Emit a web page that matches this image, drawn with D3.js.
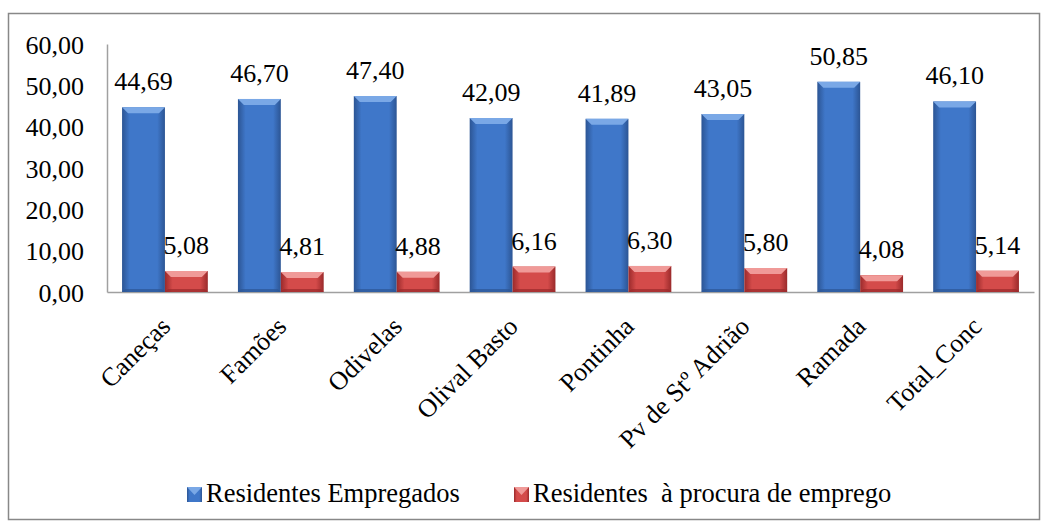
<!DOCTYPE html>
<html>
<head>
<meta charset="utf-8">
<script src="https://cdn.jsdelivr.net/npm/d3@7"></script>
<style>
  body { margin: 0; background: #fff; }
</style>
</head>
<body>
<script>
const categories = ['Caneças', 'Famões', 'Odivelas', 'Olival Basto', 'Pontinha', 'Pv de Stº Adrião', 'Ramada', 'Total_Conc'];
const empregados = [44.69, 46.70, 47.40, 42.09, 41.89, 43.05, 50.85, 46.10];
const procura = [5.08, 4.81, 4.88, 6.16, 6.30, 5.80, 4.08, 5.14];
const seriesNames = ['Residentes Empregados', 'Residentes  à procura de emprego'];
const yTicks = [0, 10, 20, 30, 40, 50, 60];

const svgWidth = 1049;
const svgHeight = 525;
const margin = { left: 107, right: 15, top: 44, bottom: 233 };
const width = 1034 - margin.left;
const height = 292 - margin.top;
const serif = '"Liberation Serif", "Times New Roman", serif';
const fontSize = '26px';

const fmt = (v) => v.toFixed(2).replace('.', ',');

const svg = d3.select('body')
.append('svg')
.attr('width', svgWidth)
.attr('height', svgHeight)
.attr('font-family', serif)

// outer chart border
svg.append('rect')
.attr('x', 8.5).attr('y', 13.5)
.attr('width', 1031).attr('height', 506)
.attr('fill', '#fff')
.attr('stroke', '#888')
.attr('stroke-width', 1.5)

const defs = svg.append('defs');
const colors = [
    { id: 'blue', dark: '#2c5594', mid: '#3f77c9', light: '#7aa8e6' },
    { id: 'red', dark: '#9a2a2b', mid: '#d44b4a', light: '#f09a98' }
];
colors.forEach((c) => {
    const g = defs.append('linearGradient').attr('id', 'grad-' + c.id)
    .attr('x1', 0).attr('x2', 1).attr('y1', 0).attr('y2', 0)
    g.append('stop').attr('offset', '0%').attr('stop-color', c.dark)
    g.append('stop').attr('offset', '18%').attr('stop-color', c.mid)
    g.append('stop').attr('offset', '82%').attr('stop-color', c.mid)
    g.append('stop').attr('offset', '100%').attr('stop-color', c.dark)
})

const chart = svg.append('g')
.attr('transform', `translate(${margin.left}, ${margin.top})`)

const x0 = d3.scaleBand()
.domain(categories)
.range([0, width])
.paddingInner(0.26)
.paddingOuter(0.13)

const x1 = d3.scaleBand()
.domain([0, 1])
.range([0, x0.bandwidth()])

const y = d3.scaleLinear()
.domain([0, 60])
.range([height, 0])

// y axis
const yAxis = chart.append('g')
.call(d3.axisLeft(y).tickValues(yTicks).tickFormat(fmt).tickSize(0).tickPadding(23))
yAxis.attr('font-family', serif)
yAxis.select('.domain').attr('stroke', '#a0a0a0').attr('stroke-width', 1.5)
yAxis.selectAll('text').style('font-size', fontSize).style('font-family', serif).attr('fill', '#000').attr('dy', '0.35em')

// x axis, labels slanted
const xAxis = chart.append('g')
.attr('transform', `translate(0, ${height})`)
.call(d3.axisBottom(x0).tickSize(0).tickPadding(0))
xAxis.attr('font-family', serif)
xAxis.select('.domain').attr('stroke', '#a0a0a0').attr('stroke-width', 1.5)
xAxis.selectAll('text')
.style('font-size', fontSize)
.style('font-family', serif)
.attr('fill', '#000')
.attr('text-anchor', 'end')
.attr('dy', 0)
.attr('transform', 'translate(7, 36) rotate(-45)')

const rows = categories.map((c, i) => ({ cat: c, vals: [empregados[i], procura[i]] }));

const groups = chart.selectAll('.group')
.data(rows).enter()
.append('g')
.attr('class', 'group')
.attr('transform', (d) => `translate(${x0(d.cat)}, 0)`)

const bevel = 6;
groups.each(function (d) {
    const g = d3.select(this);
    d.vals.forEach((v, s) => {
        const c = colors[s];
        const bx = x1(s);
        const bw = x1.bandwidth();
        const by = y(v);
        const bh = height - by;
        g.append('rect')
        .attr('x', bx).attr('y', by)
        .attr('width', bw).attr('height', bh)
        .attr('fill', `url(#grad-${c.id})`)
        // top bevel
        g.append('polygon')
        .attr('points', [[bx, by], [bx + bw, by], [bx + bw - bevel, by + bevel], [bx + bevel, by + bevel]].map((p) => p.join(',')).join(' '))
        .attr('fill', c.light)
        // bottom bevel shade
        g.append('polygon')
        .attr('points', [[bx, by + bh], [bx + bw, by + bh], [bx + bw - 3, by + bh - 3], [bx + 3, by + bh - 3]].map((p) => p.join(',')).join(' '))
        .attr('fill', c.dark)
        .attr('opacity', 0.7)
        g.append('text')
        .attr('x', bx + bw / 2)
        .attr('y', by - 17)
        .attr('text-anchor', 'middle')
        .style('font-size', fontSize)
        .style('font-family', serif)
        .text(fmt(v))
    })
})

// legend
const legendItems = [{ x: 187, name: seriesNames[0], c: colors[0] }, { x: 514, name: seriesNames[1], c: colors[1] }];
const legend = svg.append('g')
legendItems.forEach((it) => {
    legend.append('rect')
    .attr('x', it.x).attr('y', 487)
    .attr('width', 15).attr('height', 15)
    .attr('fill', `url(#grad-${it.c.id})`)
    legend.append('polygon')
    .attr('points', `${it.x},487 ${it.x + 15},487 ${it.x + 7.5},495`)
    .attr('fill', it.c.light)
    legend.append('text')
    .attr('x', it.x + 19).attr('y', 502)
    .style('white-space', 'pre')
    .style('font-size', '26.5px')
    .style('font-family', serif)
    .text(it.name)
})
</script>
</body>
</html>
